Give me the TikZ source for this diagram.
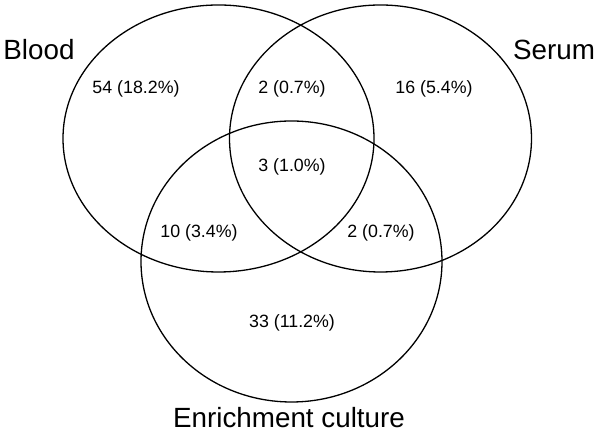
\documentclass[tikz,border=0pt]{standalone}
\usepackage{fontspec}
\setmainfont{Liberation Sans}
\usetikzlibrary{shapes.geometric}

\begin{document}
\begin{tikzpicture}[x=1pt, y=1pt]
\tikzstyle{set}=[ellipse, draw, line width=1.3pt, inner sep=0pt]
\tikzstyle{num}=[font=\fontsize{17.8}{20}\selectfont]
\tikzstyle{lab}=[font=\fontsize{27.8}{32}\selectfont]
\useasboundingbox (0,0) rectangle (600,443);
% the three sets
\node[set, minimum width=311pt, minimum height=267pt] (blood) at (218.5,304.5) {};
\node[set, minimum width=302pt, minimum height=267pt] (serum) at (380.5,304.5) {};
\node[set, minimum width=301pt, minimum height=281pt] (enrich) at (291.5,181.5) {};
% set names
\node[lab] (lb) at (39,393) {Blood};
\node[lab] (ls) at (554,393) {Serum};
\node[lab] (le) at (289,25) {Enrichment culture};
% counts
\node[num] (n1) at (136,354) {54 (18.2\%)};
\node[num] (n2) at (292,354) {2 (0.7\%)};
\node[num] (n3) at (434,354) {16 (5.4\%)};
\node[num] (n4) at (292,276) {3 (1.0\%)};
\node[num] (n5) at (199,210) {10 (3.4\%)};
\node[num] (n6) at (381,210) {2 (0.7\%)};
\node[num] (n7) at (292,120) {33 (11.2\%)};
\end{tikzpicture}
\end{document}
